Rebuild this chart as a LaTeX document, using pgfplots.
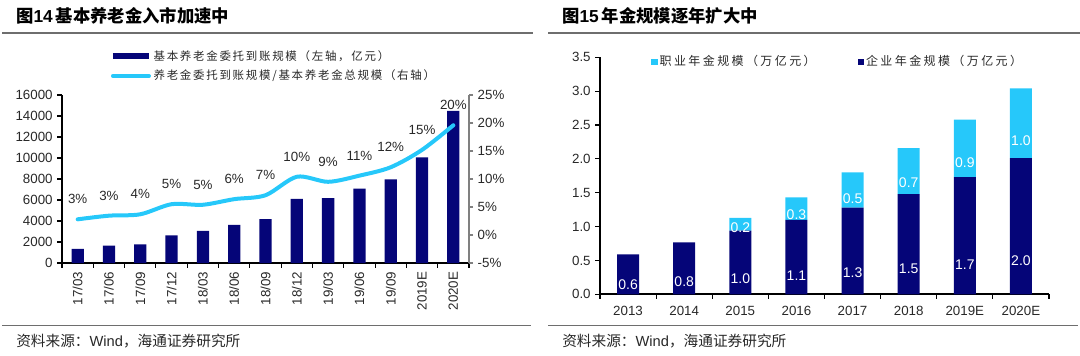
\documentclass[border=0pt]{standalone}
\usepackage{fontspec}
\setmainfont{Liberation Sans}
\newfontfamily\cjk{Noto Sans CJK SC}
\newfontfamily\cjkleg{Noto Sans CJK SC}[LetterSpace=15]
\newfontfamily\cjklegB{Noto Sans CJK SC}[LetterSpace=20]
\usepackage{pgfplots}
\usepackage{pgfplotstable}
\pgfplotsset{compat=1.18}
\pgfplotsset{/pgf/number format/assume math mode=true}
\definecolor{navy}{RGB}{5,5,120}
\definecolor{sky}{RGB}{38,200,250}
\definecolor{rulegray}{RGB}{110,110,110}
\definecolor{txt}{RGB}{40,40,40}

\pgfplotstableread{
x bar line lab
0 1340 2.8 3
1 1650 3.45 3
2 1780 3.7 4
3 2640 5.5 5
4 3050 5.4 5
5 3620 6.4 6
6 4190 7.1 7
7 6100 10.4 10
8 6190 9.5 9
9 7080 10.6 11
10 7970 12.1 12
11 10070 15.2 15
12 14500 19.6 20
}\leftdata

\pgfplotstableread{
x ent occ entlab occlab
0 0.59 0 0.6 {}
1 0.765 0 0.8 {}
2 0.94 0.19 1.0 0.2
3 1.10 0.33 1.1 0.3
4 1.28 0.52 1.3 0.5
5 1.48 0.68 1.5 0.7
6 1.73 0.85 1.7 0.9
7 2.01 1.03 2.0 1.0
}\rightdata

\begin{document}
\begin{tikzpicture}
\useasboundingbox (0,0) rectangle (810pt,-267pt);
\begin{scope}[x=0.75pt,y=-0.75pt]
\draw[rulegray, line width=1.1pt] (2,33) -- (533,33);
\draw[rulegray, line width=1.1pt] (548,33) -- (1080,33);
\draw[rulegray, line width=1.1pt] (2,325.7) -- (531,325.7);
\draw[rulegray, line width=1.1pt] (548,325.7) -- (1078,325.7);
\node[anchor=west, inner sep=0pt, font=\fontsize{13}{15}\selectfont\bfseries] at (16,16) {{\cjk 图}14\,{\cjk 基本养老金入市加速中}};
\node[anchor=west, inner sep=0pt, font=\fontsize{13}{15}\selectfont\bfseries] at (562,16) {{\cjk 图}15\,{\cjk 年金规模逐年扩大中}};
\node[anchor=west, inner sep=0pt, text=txt, font=\fontsize{11}{13}\selectfont] at (16,341) {{\cjk 资料来源：}Wind{\cjk ，海通证券研究所}};
\node[anchor=west, inner sep=0pt, text=txt, font=\fontsize{11}{13}\selectfont] at (562,341) {{\cjk 资料来源：}Wind{\cjk ，海通证券研究所}};
\end{scope}

% ---------- left chart: bars ----------
\begin{axis}[
  at={(46.5pt,-197.25pt)}, anchor=south west,
  scale only axis, width=305.25pt, height=126pt,
  xmin=-0.5, xmax=12.5, ymin=0, ymax=16000,
  axis x line*=bottom, axis y line*=left,
  axis line style={-, black, line width=1.2pt},
  tick align=outside, major tick length=3.5pt,
  tick style={black, line width=0.8pt},
  ytick={0,2000,...,16000}, scaled y ticks=false,
  yticklabel style={/pgf/number format/set thousands separator={}, font=\fontsize{10}{12}\selectfont, text=txt},
  xtick={-0.5,0.5,...,12.5}, xticklabels={},
  extra x ticks={0,...,12},
  extra x tick labels={17/03,17/06,17/09,17/12,18/03,18/06,18/09,18/12,19/03,19/06,19/09,2019E,2020E},
  extra x tick style={major tick length=0pt},
  xticklabel style={rotate=90, anchor=east, font=\fontsize{10}{12}\selectfont, text=txt},
  xticklabel shift=3pt,
]
\addplot[ybar, bar width=9.2pt, fill=navy, draw=none] table[x=x,y=bar] \leftdata;
\end{axis}

% ---------- left chart: line ----------
\begin{axis}[
  at={(46.5pt,-197.25pt)}, anchor=south west,
  scale only axis, width=305.25pt, height=126pt,
  xmin=-0.5, xmax=12.5, ymin=-5, ymax=25,
  axis x line=none, axis y line*=right,
  axis line style={-, gray, line width=1pt},
  tick align=outside, major tick length=3pt,
  tick style={gray, line width=0.8pt},
  ytick={-5,0,...,25},
  yticklabel={\pgfmathprintnumber{\tick}\%},
  yticklabel style={font=\fontsize{10}{12}\selectfont, text=txt},
  legend style={at={(axis description cs:0.118,1.28)}, anchor=north west, draw=none, fill=none, inner sep=0pt, row sep=3pt, font=\cjkleg\fontsize{8.6}{9.6}\selectfont, text=txt, nodes={inner sep=1.5pt}},
  legend cell align=left,
  legend image code/.code={\draw[#1] (0pt,0pt) -- (27pt,0pt);},
]
\addlegendimage{navy, line width=4pt}
\addlegendentry{基本养老金委托到账规模（左轴，亿元）}
\addplot[sky, line width=3pt, smooth, line cap=round, point meta=explicit,
  nodes near coords={\pgfmathprintnumber{\pgfplotspointmeta}\%},
  every node near coord/.append style={anchor=center, yshift=15pt, font=\fontsize{10}{12}\selectfont, text=txt}]
  table[x=x, y=line, meta=lab] \leftdata;
\addlegendentry{养老金委托到账规模/基本养老金总规模（右轴）}
\end{axis}

% ---------- right chart ----------
\begin{axis}[
  at={(450pt,-220.7pt)}, anchor=south west,
  scale only axis, width=336.75pt, height=177.75pt,
  xmin=-0.5, xmax=7.5, ymin=0, ymax=3.5,
  axis x line*=bottom, axis y line*=left,
  axis line style={-, black, line width=1.2pt},
  tick align=outside, major tick length=3.5pt,
  tick style={black, line width=0.8pt},
  ytick={0,0.5,1,1.5,2,2.5,3,3.5},
  yticklabel style={/pgf/number format/.cd, fixed, fixed zerofill, precision=1, /tikz/.cd, font=\fontsize{10}{12}\selectfont, text=txt},
  xtick={-0.5,0.5,...,7.5}, xticklabels={},
  extra x ticks={0,...,7},
  extra x tick labels={2013,2014,2015,2016,2017,2018,2019E,2020E},
  extra x tick style={major tick length=0pt},
  xticklabel style={font=\fontsize{10}{12}\selectfont, text=txt},
  xticklabel shift=5.5pt,
  ybar stacked, bar width=16.5pt,
  legend columns=2, reverse legend,
  legend style={at={(axis description cs:0.1136,0.981)}, anchor=west, draw=none, fill=none, inner sep=0pt, font=\cjklegB\fontsize{9}{10}\selectfont, text=txt, nodes={inner sep=1.5pt}, /tikz/every even column/.append style={column sep=30pt}},
]
\addplot[fill=navy, draw=none, point meta=explicit symbolic,
  visualization depends on={\thisrow{ent} \as \rawy},
  nodes near coords,
  every node near coord/.append style={anchor=center, shift={(axis direction cs:0,-\rawy/4)}, text=white, font=\fontsize{10.5}{12}\selectfont},
  legend image code/.code={\fill[navy] (0pt,-2.4pt) rectangle (4.8pt,2.4pt);}]
  table[x=x, y=ent, meta=entlab] \rightdata;
\addlegendentry{企业年金规模（万亿元）}
\addplot[fill=sky, draw=none, point meta=explicit symbolic,
  visualization depends on={\thisrow{occ} \as \rawy},
  nodes near coords,
  every node near coord/.append style={anchor=center, shift={(axis direction cs:0,-\rawy/4)}, text=white, font=\fontsize{10.5}{12}\selectfont},
  legend image code/.code={\fill[sky] (0pt,-2.4pt) rectangle (4.8pt,2.4pt);}]
  table[x=x, y=occ, meta=occlab] \rightdata;
\addlegendentry{职业年金规模（万亿元）}
\end{axis}
\end{tikzpicture}
\end{document}
